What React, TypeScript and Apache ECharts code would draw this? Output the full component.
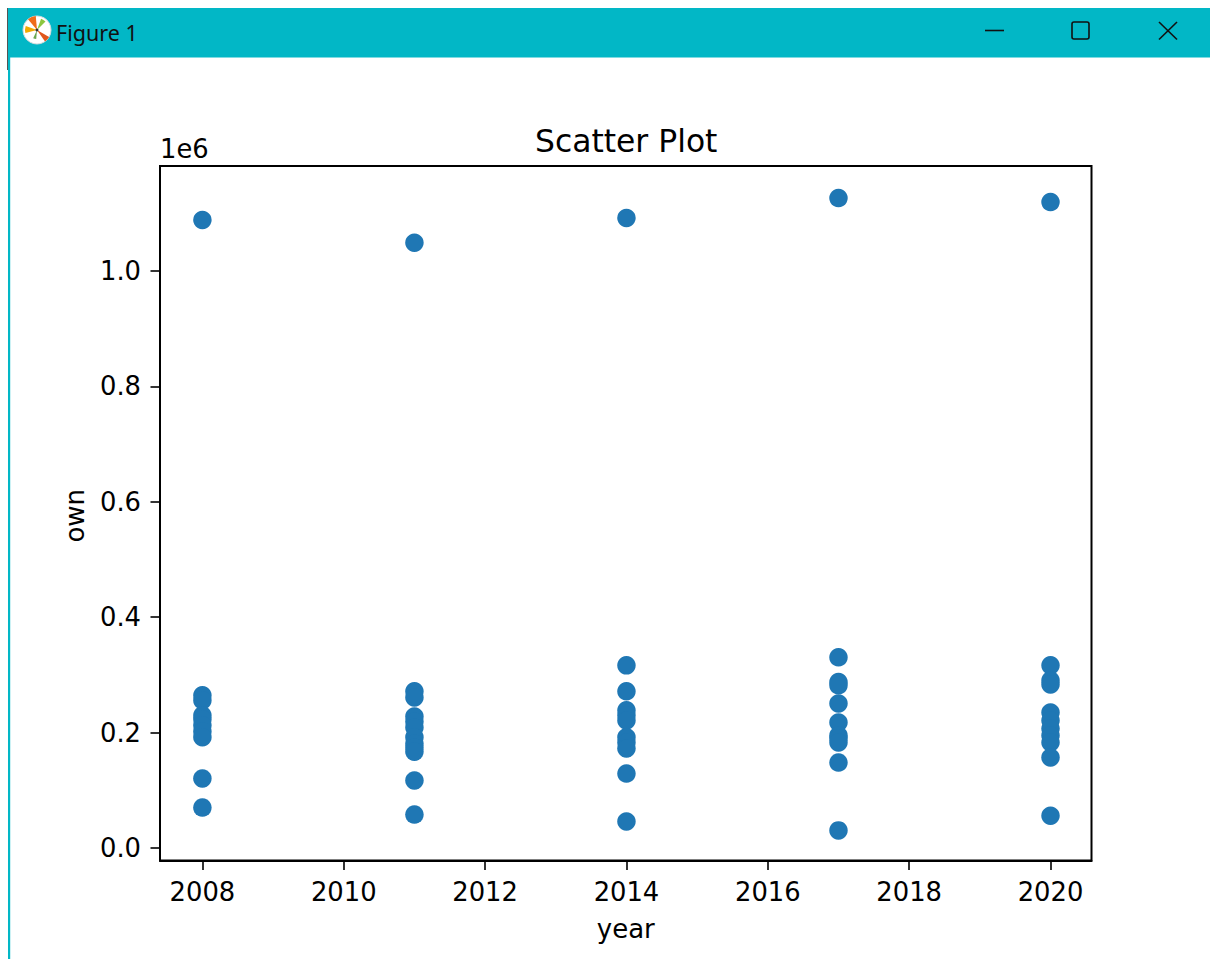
import React, { useEffect, useRef } from "react";
import * as echarts from "echarts";

const years = [2008, 2011, 2014, 2017, 2020];
const own2008 = [1088500, 264500, 256000, 230000, 223000, 212500, 202000, 192000, 120500, 70000];
const own2011 = [1049000, 271500, 261000, 228000, 219000, 209000, 192000, 181000, 174000, 167000, 117000, 58000];
const own2014 = [1092000, 316500, 271500, 238500, 230000, 221000, 192000, 183000, 172500, 129000, 46000];
const own2017 = [1126500, 330500, 287500, 282000, 250500, 217500, 195000, 190000, 183000, 148000, 30500];
const own2020 = [1119500, 316500, 290500, 283500, 235000, 221000, 207000, 195000, 183000, 157000, 56000];
const ownByYear = [own2008, own2011, own2014, own2017, own2020];
const xTicks = [2008, 2010, 2012, 2014, 2016, 2018, 2020];
const yTicks = [0, 200000, 400000, 600000, 800000, 1000000];

const FONT = "DejaVu Sans";
const BAR = "#02b7c6";
const points = years.flatMap((y, i) => ownByYear[i].map((v) => [y, v]));

export default function App() {
  const ref = useRef<HTMLDivElement>(null);
  useEffect(() => {
    document.body.style.margin = "0";
    const chart = echarts.init(ref.current!, null, { renderer: "svg" });
    const icon = (start: number, end: number, r: number, fill: string) => ({
      type: "sector",
      shape: { cx: 37, cy: 30, r0: 0, r, startAngle: (start * Math.PI) / 180, endAngle: (end * Math.PI) / 180 },
      style: { fill },
      z: 12,
    });
    chart.setOption({
      animation: false,
      backgroundColor: "#fff",
      title: {
        text: "Scatter Plot",
        left: 530,
        top: 120,
        textStyle: { fontFamily: FONT, fontSize: 31.4, fontWeight: "normal", color: "#000" },
      },
      grid: { left: 160, top: 166, width: 931.5, height: 694.5, show: true, borderColor: "#000", borderWidth: 2, backgroundColor: "#fff" },
      xAxis: {
        type: "value",
        min: 2007.4,
        max: 2020.58,
        name: "year",
        nameLocation: "middle",
        nameGap: 55,
        nameTextStyle: { fontFamily: FONT, fontSize: 26, color: "#000" },
        splitLine: { show: false },
        axisLine: { show: true, onZero: false, lineStyle: { color: "#000", width: 2 } },
        axisTick: { show: true, length: 9.5, customValues: xTicks, lineStyle: { color: "#000", width: 1.6 } },
        axisLabel: {
          customValues: xTicks,
          margin: 18,
          fontFamily: FONT,
          fontSize: 25.8,
          color: "#000",
          formatter: (v: number) => String(Math.round(v)),
        },
      },
      yAxis: {
        type: "value",
        min: -21700,
        max: 1182000,
        name: "own",
        nameLocation: "middle",
        nameGap: 72,
        nameTextStyle: { fontFamily: FONT, fontSize: 26, color: "#000", padding: [0, 5, 0, 0] },
        splitLine: { show: false },
        axisLine: { show: true, onZero: false, lineStyle: { color: "#000", width: 2 } },
        axisTick: { show: true, length: 9.5, customValues: yTicks, lineStyle: { color: "#000", width: 1.6 } },
        axisLabel: {
          customValues: yTicks,
          margin: 19,
          fontFamily: FONT,
          fontSize: 25.8,
          color: "#000",
          formatter: (v: number) => (v / 1e6).toFixed(1),
        },
      },
      series: [
        {
          name: "own",
          type: "scatter",
          data: points,
          symbol: "circle",
          symbolSize: 18.5,
          itemStyle: { color: "#1f77b4", opacity: 1 },
          clip: false,
        },
      ],
      graphic: [
        { type: "rect", shape: { x: 8, y: 8, width: 1202, height: 49.5 }, style: { fill: BAR }, z: 10 },
        { type: "rect", shape: { x: 8, y: 57, width: 2.2, height: 902 }, style: { fill: BAR }, z: 10 },
        { type: "line", shape: { x1: 7.5, y1: 8, x2: 7.5, y2: 70 }, style: { stroke: "#555", lineWidth: 1 }, z: 11 },
        { type: "circle", shape: { cx: 37, cy: 30, r: 14 }, style: { fill: "#fff", stroke: "#ddd", lineWidth: 1 }, z: 11 },
        icon(-130, -95, 14, "#ef6c1a"),
        icon(30, 55, 14, "#e0561b"),
        icon(165, 200, 12, "#f2a900"),
        icon(-70, -45, 12, "#8cc63f"),
        icon(95, 115, 9, "#6aa84f"),
        { type: "circle", shape: { cx: 37, cy: 30, r: 1.5 }, style: { fill: "#333" }, z: 13 },
        {
          type: "text",
          x: 56,
          y: 32,
          style: { text: "Figure 1", fill: "#111", font: "21.5px 'Noto Sans'", textVerticalAlign: "middle" },
          z: 12,
        },
        { type: "line", shape: { x1: 985, y1: 30.5, x2: 1004, y2: 30.5 }, style: { stroke: "#111", lineWidth: 1.6 }, z: 12 },
        { type: "rect", shape: { x: 1072, y: 22, width: 17, height: 17, r: 2 }, style: { fill: "none", stroke: "#111", lineWidth: 1.6 }, z: 12 },
        { type: "line", shape: { x1: 1159, y1: 22, x2: 1177, y2: 39.5 }, style: { stroke: "#111", lineWidth: 1.6 }, z: 12 },
        { type: "line", shape: { x1: 1177, y1: 22, x2: 1159, y2: 39.5 }, style: { stroke: "#111", lineWidth: 1.6 }, z: 12 },
        {
          type: "text",
          x: 160,
          y: 149,
          style: { text: "1e6", fill: "#000", font: "25.8px 'DejaVu Sans'", textVerticalAlign: "middle" },
          z: 12,
        },
      ],
    });
    return () => chart.dispose();
  }, []);
  return <div ref={ref} style={{ width: 1210, height: 959 }} />;
}
